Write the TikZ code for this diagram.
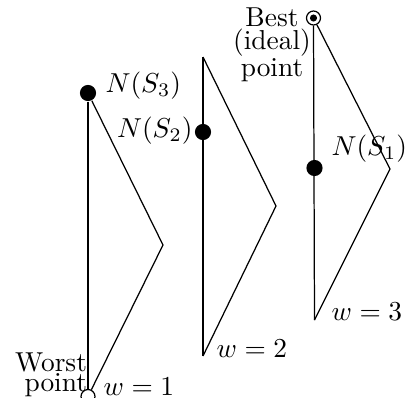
\documentclass[tikz,border=0pt]{standalone}
\begin{document}
\begin{tikzpicture}[x=0.365pt,y=-0.365pt,
  edge/.style={line width=0.45pt},
  bigdot/.style={circle,fill=black,inner sep=0pt,minimum size=5.9pt},
  ring/.style={circle,draw,line width=0.45pt,inner sep=0pt,minimum size=5.1pt},
  lbl/.style={inner sep=0pt}]
\useasboundingbox (0,0) rectangle (406,398);
% triangle w=1
\node[bigdot] (t1) at (88,93) {};
\coordinate (r1) at (163,245);
\node[ring] (worst) at (88,396.5) {};
% triangle w=2
\coordinate (t2) at (203,57);
\coordinate (r2) at (276,206);
\coordinate (b2) at (203,356);
\node[bigdot] (s2) at (203,132) {};
% triangle w=3
\node[ring] (best) at (313.5,18) {};
\fill (best.center) circle (1.3pt);
\coordinate (r3) at (390,169);
\coordinate (b3) at (314.5,320);
\node[bigdot] (s1) at (314.5,168) {};
% edges
\draw[edge] (t1) -- (worst);
\draw[edge] (t1) -- (r1) -- (worst);
\draw[edge] (t2) -- (b2);
\draw[edge] (t2) -- (r2) -- (b2);
\draw[edge] (best) -- (b3);
\draw[edge] (best) -- (r3) -- (b3);
% labels
\node[lbl,anchor=west] (l3) at (105,86) {$N(S_3)$};
\node[lbl,anchor=east] (l2) at (193,131) {$N(S_2)$};
\node[lbl,anchor=west] (l1) at (331,149) {$N(S_1)$};
\node[lbl,anchor=base west] (w1) at (103,395) {$w=1$};
\node[lbl,anchor=base west] (w2) at (216,357) {$w=2$};
\node[lbl,anchor=base west] (w3) at (331,320) {$w=3$};
\node[lbl,anchor=north,align=center,font=\fontsize{10}{8.4}\selectfont] (bl) at (272,7) {Best\\(ideal)\\point};
\node[lbl,anchor=north east,align=right,font=\fontsize{10}{7.3}\selectfont] (wl) at (87.5,352) {Worst\\point};
\end{tikzpicture}
\end{document}
